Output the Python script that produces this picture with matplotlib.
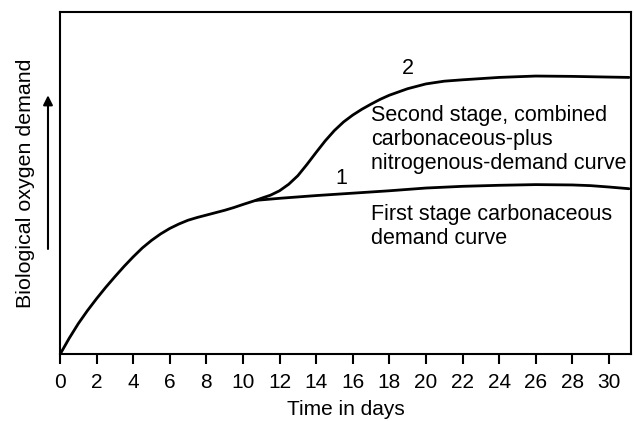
import matplotlib
matplotlib.use("Agg")
import matplotlib.pyplot as plt

plt.rcParams['font.family'] = ['Liberation Sans', 'DejaVu Sans']

# First stage carbonaceous demand curve (curve 1)
days_1 = [0, 0.5, 1, 1.5, 2, 2.5, 3, 3.5, 4, 4.5, 5, 5.5, 6, 6.5, 7, 7.5, 8, 8.5, 9, 9.5,
          10, 10.7, 12, 14, 16, 18, 20, 22, 24, 26, 28, 29, 30, 31.1]
bod_1 = [0.0, 0.047, 0.09, 0.128, 0.163, 0.196, 0.227, 0.257, 0.285, 0.311, 0.333,
         0.352, 0.368, 0.381, 0.392, 0.400, 0.407, 0.414, 0.421, 0.429,
         0.438, 0.450, 0.456, 0.464, 0.471, 0.478, 0.486, 0.491, 0.494, 0.496,
         0.495, 0.493, 0.489, 0.484]

# Second stage combined curve (curve 2), branches off curve 1 near day 10.7
days_2 = [10.7, 11, 11.5, 12, 12.5, 13, 13.5, 14, 14.5, 15, 15.5, 16, 16.5, 17, 17.5,
          18, 19, 20, 21, 22, 24, 26, 28, 30, 31.1]
bod_2 = [0.450, 0.456, 0.465, 0.478, 0.497, 0.522, 0.555, 0.590, 0.624, 0.654, 0.679,
         0.699, 0.716, 0.731, 0.745, 0.757, 0.776, 0.790, 0.798, 0.802, 0.809,
         0.813, 0.812, 0.810, 0.809]

x_ticks = list(range(0, 31, 2))

fig = plt.figure(figsize=(6.34, 4.21), dpi=100)
ax = fig.add_axes([0.0946, 0.158, 0.9004, 0.8135])

ax.plot(days_1, bod_1, color='black', lw=2, solid_capstyle='round', solid_joinstyle='round')
ax.plot(days_2, bod_2, color='black', lw=2, solid_capstyle='round', solid_joinstyle='round')

ax.set_xlim(0, 31.2)
ax.set_ylim(0, 1)
ax.set_xticks(x_ticks)
ax.set_xticklabels([str(t) for t in x_ticks], fontsize=15)
ax.set_yticks([])
ax.tick_params(axis='x', direction='out', length=7, width=1.5, pad=6)
for s in ax.spines.values():
    s.set_linewidth(1.5)

ax.set_xlabel("Time in days", fontsize=15, labelpad=6)

# y label with an upward arrow beside it
ax.text(-0.061, 0.5, "Biological oxygen demand", transform=ax.transAxes,
        rotation=90, ha='center', va='center', fontsize=15.4)
ax.annotate("", xy=(-0.021, 0.765), xytext=(-0.021, 0.30),
            xycoords='axes fraction', textcoords='axes fraction',
            arrowprops=dict(arrowstyle='-|>', color='black', lw=1.5,
                            mutation_scale=14), annotation_clip=False)

ax.text(19.0, 0.836, "2", ha='center', va='center', fontsize=15.5)
ax.text(15.35, 0.513, "1", ha='center', va='center', fontsize=15.5)
ax.text(17.0, 0.627, "Second stage, combined\ncarbonaceous-plus\nnitrogenous-demand curve",
        ha='left', va='center', fontsize=15.5, linespacing=1.2)
ax.text(17.0, 0.373, "First stage carbonaceous\ndemand curve",
        ha='left', va='center', fontsize=15.5, linespacing=1.2)

fig.savefig("out.png", dpi=100)
